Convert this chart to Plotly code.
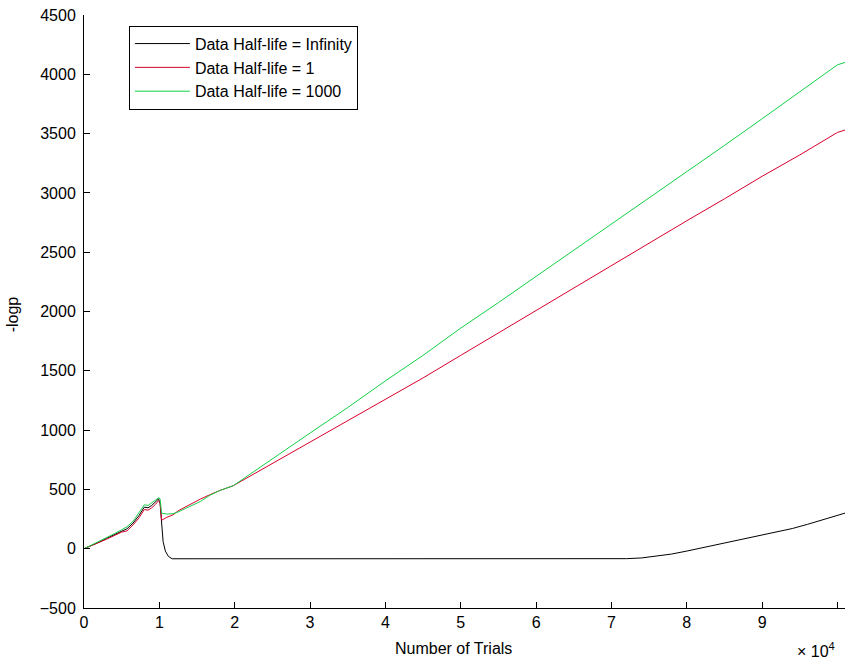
import plotly.graph_objects as go

# ---- data (x in trials, y = -logp) ----
x_inf = [0, 1000, 2000, 3000, 4000, 5000, 5700, 6500, 7300, 8000, 8500, 9000, 9500, 9900,
         10100, 10300, 10500, 10800, 11200, 11700, 20000, 40000, 60000, 72000, 74000, 76000,
         78000, 80000, 82000, 84000, 86000, 88000, 90000, 92000, 94000, 96000, 98000, 100000, 101000]
y_inf = [0, 27, 55, 88, 118, 150, 168, 215, 280, 350, 345, 365, 392, 420,
         380, 200, 60, -20, -65, -85, -85, -85, -85, -84, -78, -64,
         -45, -20, 7, 33, 58, 83, 112, 140, 170, 205, 245, 285, 300]

x_h1 = [0, 1000, 2000, 3000, 4000, 5000, 5700, 6500, 7300, 8000, 8500, 9000, 9500, 9900,
        10100, 10300, 11000, 11800, 12500, 13500, 14500, 15500, 16700, 18000, 19800,
        25000, 30000, 35000, 40000, 45000, 50000, 55000, 60000, 65000, 70000, 75000,
        80000, 85000, 90000, 95000, 100000, 101000]
y_h1 = [0, 25, 50, 80, 110, 140, 150, 200, 260, 330, 325, 345, 375, 405,
        390, 240, 265, 285, 320, 355, 390, 420, 455, 490, 531,
        720, 900, 1080, 1260, 1440, 1630, 1820, 2005, 2195, 2385, 2575,
        2765, 2950, 3140, 3320, 3510, 3530]

x_h1000 = [0, 1000, 2000, 3000, 4000, 5000, 5700, 6500, 7300, 8000, 8500, 9000, 9500, 9900,
           10100, 10300, 11000, 11800, 12500, 13500, 14500, 15500, 16700, 18000, 19800,
           25000, 30000, 35000, 40000, 45000, 50000, 55000, 60000, 65000, 70000, 75000,
           80000, 85000, 90000, 95000, 100000, 101000]
y_h1000 = [0, 30, 60, 95, 125, 160, 185, 230, 300, 370, 365, 385, 410, 430,
           420, 300, 292, 295, 310, 340, 370, 400, 450, 490, 531,
           760, 975, 1190, 1415, 1630, 1860, 2075, 2295, 2515, 2735, 2955,
           3180, 3400, 3625, 3850, 4080, 4100]

names = ["Data Half-life = Infinity", "Data Half-life = 1", "Data Half-life = 1000"]
colors = ["#000000", "#d8002a", "#14d048"]

x_tickvals = [0, 10000, 20000, 30000, 40000, 50000, 60000, 70000, 80000, 90000, 100000]
x_ticktext = ["0", "1", "2", "3", "4", "5", "6", "7", "8", "9", "10"]
y_tickvals = [-500, 0, 500, 1000, 1500, 2000, 2500, 3000, 3500, 4000, 4500]

FONT = "Liberation Sans, Arial, sans-serif"

fig = go.Figure()
for i, (xs, ys) in enumerate([(x_inf, y_inf), (x_h1, y_h1), (x_h1000, y_h1000)]):
    fig.add_trace(go.Scatter(x=xs, y=ys, mode="lines", name=names[i],
                             legendgroup=f"g{i}",
                             line=dict(color=colors[i], width=1)))

fig.update_layout(
    width=845, height=663,
    margin=dict(l=84, r=0, t=15, b=55),
    plot_bgcolor="white", paper_bgcolor="white",
    font=dict(family=FONT, size=15, color="black"),
    showlegend=True,
    legend=dict(x=0.059, y=0.982, xanchor="left", yanchor="top",
                bordercolor="black", borderwidth=1, bgcolor="white",
                font=dict(family=FONT, size=16, color="black"),
                itemwidth=55,
                tracegroupgap=5, traceorder="normal"),
    xaxis=dict(range=[0, 101000], tickvals=x_tickvals, ticktext=x_ticktext,
               ticks="inside", ticklen=6, tickcolor="black", showgrid=False,
               zeroline=False, showline=True, linecolor="black", linewidth=1,
               mirror=False, tickfont=dict(size=16)),
    yaxis=dict(range=[-500, 4500], tickvals=y_tickvals,
               ticks="inside", ticklen=6, tickcolor="black", showgrid=False,
               zeroline=False, showline=True, linecolor="black", linewidth=1,
               mirror=False, tickfont=dict(size=16), ticklabelstandoff=4),
    annotations=[
        dict(text="Number of Trials", xref="x", yref="paper", x=49000, y=-0.068,
             xanchor="center", yanchor="middle", showarrow=False,
             font=dict(size=16)),
        dict(text="-logp", xref="paper", yref="paper", x=-0.094, y=0.496,
             xanchor="center", yanchor="middle", showarrow=False, textangle=-90,
             font=dict(size=16)),
        dict(text="× 10<sup>4</sup>", xref="x", yref="paper", x=100000, y=-0.07,
             xanchor="right", yanchor="middle", showarrow=False,
             font=dict(size=16)),
    ],
)

fig.write_html("out.html")
